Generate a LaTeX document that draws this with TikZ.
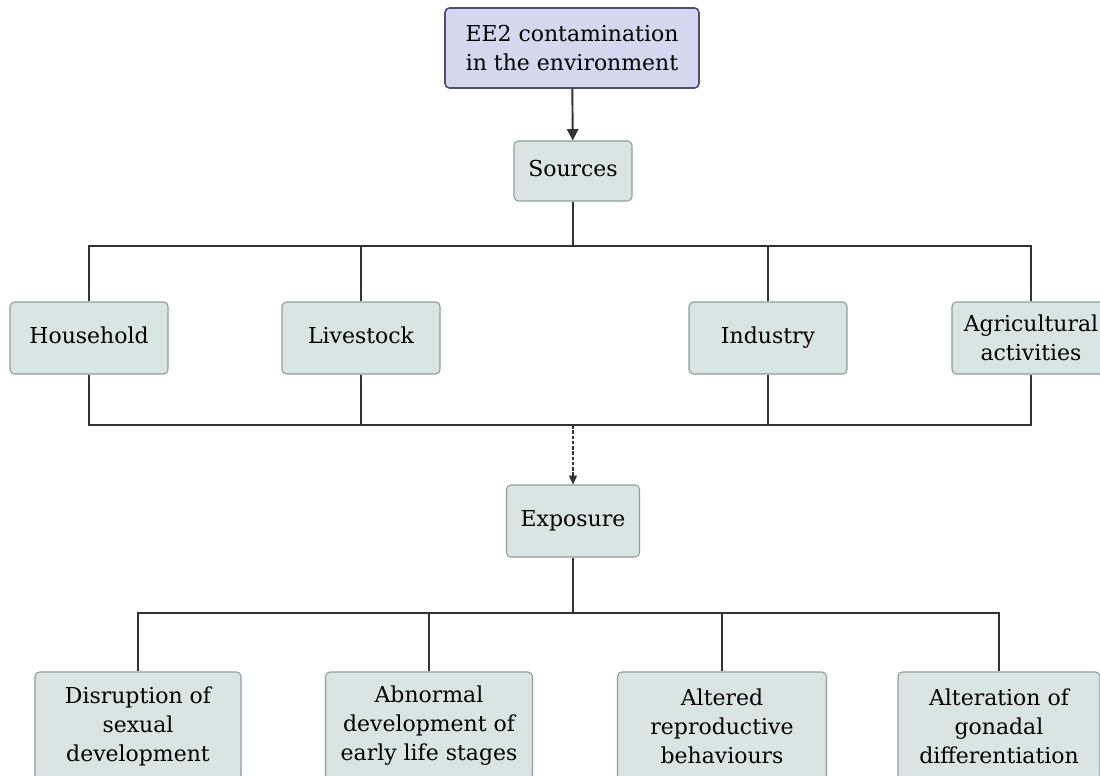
\documentclass[tikz,border=0pt]{standalone}
\usepackage{fontspec}
\setmainfont{DejaVu Serif}
\usetikzlibrary{arrows.meta}

\definecolor{boxfill}{HTML}{D9E5E3}
\definecolor{boxline}{HTML}{8E9C9A}
\definecolor{topfill}{HTML}{D3D8EE}
\definecolor{topline}{HTML}{4C5170}
\definecolor{wire}{HTML}{333333}

\begin{document}
\begin{tikzpicture}[x=0.02cm, y=-0.02cm]

    \tikzset{
      box/.style={
        draw=boxline,
        fill=boxfill,
        line width=0.6pt,
        rounded corners=2.5pt,
        align=center,
        inner sep=2pt,
        font=\fontsize{12.5}{16.5}\selectfont,
        text=black,
      },
      oneline/.style={text height=1.7ex, text depth=0.45ex},
      topbox/.style={
        box,
        draw=topline,
        fill=topfill,
        line width=0.9pt,
      },
      wireline/.style={draw=wire, line width=1.1pt},
    }
    \useasboundingbox (0,0) rectangle (1100,776);

	% top of the chart
	\node[topbox, minimum width=5.08cm, minimum height=1.6cm] (env) at (572,48) {EE2 contamination\\in the environment};
	\node[box, oneline, minimum width=2.36cm, minimum height=1.2cm] (src) at (573,171) {Sources};
	\draw[wireline, -{Triangle[length=6.5pt,width=6.5pt]}] (env) -- (src);

	% sources
	\node[box, oneline, minimum width=3.16cm, minimum height=1.44cm] (household) at (89,338) {Household};
	\node[box, oneline, minimum width=3.16cm, minimum height=1.44cm] (livestock) at (361,338) {Livestock};
	\node[box, oneline, minimum width=3.16cm, minimum height=1.44cm] (industry) at (768,338) {Industry};
	\node[box, minimum width=3.16cm, minimum height=1.44cm] (agri) at (1031,338) {Agricultural\\activities};

	\coordinate (bus1) at (573,246);
	\coordinate (bus2) at (573,425);
	\draw[wireline] (src) -- (bus1);
	\draw[wireline] (household.north) |- (agri.north |- bus1) -- (agri.north);
	\draw[wireline] (livestock.north) -- (livestock.north |- bus1);
	\draw[wireline] (industry.north) -- (industry.north |- bus1);
	\draw[wireline] (household.south) |- (agri.south |- bus2) -- (agri.south);
	\draw[wireline] (livestock.south) -- (livestock.south |- bus2);
	\draw[wireline] (industry.south) -- (industry.south |- bus2);

	% exposure
	\node[box, oneline, minimum width=2.66cm, minimum height=1.44cm] (exposure) at (573,521) {Exposure};
	\draw[draw=wire, line width=0.6pt, dash pattern=on 2pt off 1pt, -{Triangle[length=5pt,width=4.5pt]}] (bus2) -- (exposure);

	% effects
	\node[box, minimum width=4.12cm, minimum height=2.16cm] (effect1) at (138,726) {Disruption of\\sexual\\development};
	\node[box, minimum width=4.14cm, minimum height=2.16cm] (effect2) at (429,726) {Abnormal\\development of\\early life stages};
	\node[box, minimum width=4.18cm, minimum height=2.16cm] (effect3) at (722,726) {Altered\\reproductive\\behaviours};
	\node[box, minimum width=4.04cm, minimum height=2.16cm] (effect4) at (999,726) {Alteration of\\gonadal\\differentiation};

	\coordinate (bus3) at (573,613);
	\draw[wireline] (exposure) -- (bus3);
	\draw[wireline] (effect1.north) |- (effect4.north |- bus3) -- (effect4.north);
	\draw[wireline] (effect2.north) -- (effect2.north |- bus3);
	\draw[wireline] (effect3.north) -- (effect3.north |- bus3);

\end{tikzpicture}
\end{document}
